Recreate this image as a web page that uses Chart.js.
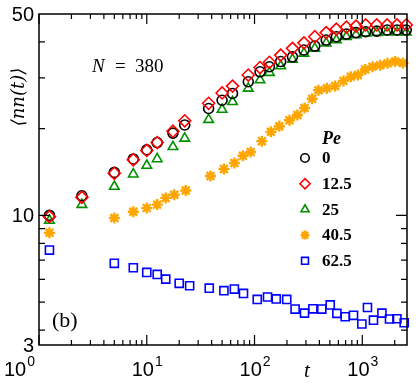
<!DOCTYPE html>
<html>
<head>
<meta charset="utf-8">
<script src="https://cdn.jsdelivr.net/npm/chart.js@4/dist/chart.umd.min.js"></script>
<style>
  html, body { margin: 0; padding: 0; background: #fff; }
  #wrap { width: 420px; height: 386px; }
</style>
</head>
<body>
<div id="wrap"><canvas id="nnChart" width="420" height="386"></canvas></div>
<script>
/* ==========================
   DATA
========================== */

// times shared by Pe = 0, 12.5, 25
const T_TOP = [1.25, 2.5, 5, 7.5, 10, 12.5, 17.5, 22.5, 37.5, 50, 62.5, 87.5, 112.5, 137.5,
    175, 225, 287.5, 362.5, 462.5, 575, 712.5, 875, 1075, 1362, 1700, 2100, 2560];

const NN_PE0 = [10.0, 11.7, 14.1, 15.7, 16.9, 17.9, 19.3, 20.6, 23.5, 25.1, 26.5, 29.1, 31.5, 32.8,
    34.2, 35.5, 37.5, 38.7, 40.6, 41.7, 42.6, 43.1, 43.4, 43.6, 44.0, 44.0, 44.0];

const NN_PE12 = [9.9, 11.55, 14.0, 15.6, 16.8, 17.9, 19.6, 21.3, 24.5, 26.6, 28.1, 30.7, 32.6, 34.0,
    36.0, 38.0, 39.7, 41.7, 43.1, 44.3, 45.0, 45.4, 45.8, 45.8, 45.8, 45.8, 45.8];

const NN_PE25 = [9.6, 10.9, 12.6, 13.9, 14.9, 15.7, 17.3, 18.5, 21.5, 23.3, 24.8, 27.6, 29.5, 31.3,
    33.0, 34.8, 36.5, 38.0, 39.6, 40.6, 41.7, 42.3, 42.9, 43.1, 43.2, 43.2, 43.2];

const T_PE40 = [1.25, 5, 7.5, 10, 12.5, 15, 18, 23, 39, 52, 65, 78, 92, 117, 142, 170, 211, 250,
    291, 343, 392, 469, 560, 669, 783, 910, 1064, 1245, 1466, 1714, 2020, 2383];

const NN_PE40 = [8.7, 9.8, 10.3, 10.6, 10.9, 11.5, 11.8, 12.2, 13.7, 14.5, 15.2, 16.1, 16.6, 18.1,
    19.5, 20.4, 21.4, 22.3, 23.6, 25.4, 27.2, 27.6, 28.1, 29.3, 30.3, 30.7, 32.1, 32.8, 33.2,
    33.7, 34.2, 33.8];

const T_PE62 = [1.25, 5, 7.5, 10, 12.5, 15, 20, 25, 38, 52, 65, 79, 106, 132, 159, 199, 238, 291,
    348, 421, 504, 581, 694, 829, 991, 1117, 1270, 1521, 1789, 2096, 2449];

const NN_PE62 = [7.58, 6.82, 6.58, 6.34, 6.24, 6.01, 5.81, 5.70, 5.59, 5.48, 5.55, 5.36, 5.11, 5.21,
    5.13, 5.11, 4.73, 4.58, 4.74, 4.73, 4.89, 4.57, 4.45, 4.50, 4.20, 4.79, 4.33, 4.58, 4.37,
    4.38, 4.24];

const PE_LABELS = ["0", "12.5", "25", "40.5", "62.5"];

// axes
const X_RANGE = [1, 2600];
const Y_RANGE = [3.55, 50];
const X_MAJOR = [1, 10, 100, 1000];
const X_EXP = ["0", "1", "2", "3"];
const Y_LABEL_VALUES = [50, 10, 3.55];
const Y_LABEL_TEXT = ["50", "10", "3"];
const Y_MINOR = [4, 5, 6, 7, 8, 9, 20, 30, 40];

/* ==========================
   HELPERS
========================== */

function toPoints(ts, ys) {
    return ts.map((t, i) => ({ x: t, y: ys[i] }));
}

const SERIES_STYLE = [
    { color: "#000000", style: "circle", radius: 5, width: 1.6, order: 1 },
    { color: "#ff0000", style: "rectRot", radius: 6, width: 1.6, order: 0 },
    { color: "#009000", style: "triangle", radius: 5.5, width: 1.6, order: 2 },
    { color: "#ffa500", style: "star", radius: 5.5, width: 2.4, order: 3 },
    { color: "#0000ff", style: "rect", radius: 5.7, width: 1.6, order: 4 }
];

const SERIES_DATA = [
    toPoints(T_TOP, NN_PE0),
    toPoints(T_TOP, NN_PE12),
    toPoints(T_TOP, NN_PE25),
    toPoints(T_PE40, NN_PE40),
    toPoints(T_PE62, NN_PE62)
];

/* ==========================
   FRAME, TICKS, TEXT
========================== */

const framePlugin = {
    id: "frame",
    afterDraw(chart) {
        const ctx = chart.ctx;
        const a = chart.chartArea;
        const xs = chart.scales.x;
        const ys = chart.scales.y;

        ctx.save();
        ctx.strokeStyle = "#000";
        ctx.lineWidth = 1.5;
        ctx.strokeRect(a.left, a.top, a.right - a.left, a.bottom - a.top);

        ctx.lineWidth = 1.2;
        ctx.beginPath();
        // x ticks, bottom and top, pointing inwards
        for (let d = 1; d <= 1000; d *= 10) {
            for (let m = 1; m <= 9; m++) {
                const v = d * m;
                if (v < X_RANGE[0] || v > X_RANGE[1]) continue;
                const px = xs.getPixelForValue(v);
                const len = m === 1 ? 10 : 5;
                ctx.moveTo(px, a.bottom);
                ctx.lineTo(px, a.bottom - len);
                ctx.moveTo(px, a.top);
                ctx.lineTo(px, a.top + len);
            }
        }
        // y ticks, left and right
        Y_MINOR.concat([10]).forEach(v => {
            const py = ys.getPixelForValue(v);
            const len = v === 10 ? 11 : 6;
            ctx.moveTo(a.left, py);
            ctx.lineTo(a.left + len, py);
            ctx.moveTo(a.right, py);
            ctx.lineTo(a.right - len, py);
        });
        ctx.stroke();

        // tick labels
        ctx.fillStyle = "#000";
        ctx.textBaseline = "alphabetic";
        X_MAJOR.forEach((v, i) => {
            let cx = xs.getPixelForValue(v);
            if (i === 0) cx = 19;
            ctx.font = "20px 'Liberation Sans', Arial, sans-serif";
            const wBase = ctx.measureText("10").width;
            ctx.font = "14px 'Liberation Sans', Arial, sans-serif";
            const wExp = ctx.measureText(X_EXP[i]).width;
            const x0 = cx - (wBase + wExp) / 2;
            ctx.font = "20px 'Liberation Sans', Arial, sans-serif";
            ctx.textAlign = "left";
            ctx.fillText("10", x0, 376);
            ctx.font = "14px 'Liberation Sans', Arial, sans-serif";
            ctx.fillText(X_EXP[i], x0 + wBase + 1, 366);
        });

        ctx.font = "20px 'Liberation Sans', Arial, sans-serif";
        ctx.textAlign = "right";
        ctx.textBaseline = "middle";
        Y_LABEL_VALUES.forEach((v, i) => {
            ctx.fillText(Y_LABEL_TEXT[i], 34, ys.getPixelForValue(v) + 1);
        });

        // axis titles
        ctx.textBaseline = "alphabetic";
        ctx.textAlign = "center";
        ctx.font = "italic 21px 'Liberation Serif', 'DejaVu Serif', serif";
        ctx.fillText("t", 307, 377);

        ctx.save();
        ctx.translate(24, 97);
        ctx.rotate(-Math.PI / 2);
        ctx.font = "italic 18px 'DejaVu Serif', 'Liberation Serif', serif";
        ctx.fillText("\u27E8nn(t)\u27E9", 0, 0);
        ctx.restore();

        // annotations
        ctx.textAlign = "left";
        ctx.font = "italic 19px 'Liberation Serif', serif";
        ctx.fillText("N", 92, 72);
        ctx.font = "19px 'Liberation Serif', serif";
        ctx.fillText("=", 115, 72);
        ctx.fillText("380", 135, 72);

        ctx.font = "22px 'Liberation Serif', serif";
        ctx.fillText("(b)", 52, 327);

        // legend
        ctx.font = "italic bold 18px 'Liberation Serif', serif";
        ctx.fillText("Pe", 322, 144);
        ctx.font = "bold 17px 'Liberation Serif', serif";
        ctx.textBaseline = "middle";
        SERIES_STYLE.forEach((s, i) => {
            const y = 158 + i * 25.7;
            ctx.fillStyle = "#000";
            ctx.fillText(PE_LABELS[i], 322, y + 1);
            ctx.strokeStyle = s.color;
            ctx.fillStyle = "rgba(0,0,0,0)";
            ctx.lineWidth = s.width;
            if (Chart.helpers && Chart.helpers.drawPoint) {
                Chart.helpers.drawPoint(ctx, {
                    pointStyle: s.style,
                    radius: s.style === "star" ? 4.5 : s.radius * 0.85,
                    borderWidth: s.width,
                    rotation: 0
                }, 305, y);
            }
        });
        ctx.restore();
    }
};

/* ==========================
   CHART
========================== */

const canvas = document.getElementById("nnChart");

new Chart(canvas, {

    type: "scatter",

    data: {
        datasets: SERIES_DATA.map((pts, i) => ({
            label: "Pe = " + PE_LABELS[i],
            data: pts,
            showLine: false,
            pointStyle: SERIES_STYLE[i].style,
            pointRadius: SERIES_STYLE[i].radius,
            pointBorderWidth: SERIES_STYLE[i].width,
            borderColor: SERIES_STYLE[i].color,
            backgroundColor: "rgba(0,0,0,0)",
            order: SERIES_STYLE[i].order,
            clip: false
        }))
    },

    options: {
        responsive: false,
        animation: false,
        devicePixelRatio: 1,
        layout: {
            padding: { left: 39, right: 13, top: 14, bottom: 41 }
        },
        plugins: {
            legend: { display: false },
            tooltip: { enabled: false }
        },
        scales: {
            x: {
                type: "logarithmic",
                min: X_RANGE[0],
                max: X_RANGE[1],
                display: false
            },
            y: {
                type: "logarithmic",
                min: Y_RANGE[0],
                max: Y_RANGE[1],
                display: false
            }
        }
    },

    plugins: [framePlugin]
});
</script>
</body>
</html>
